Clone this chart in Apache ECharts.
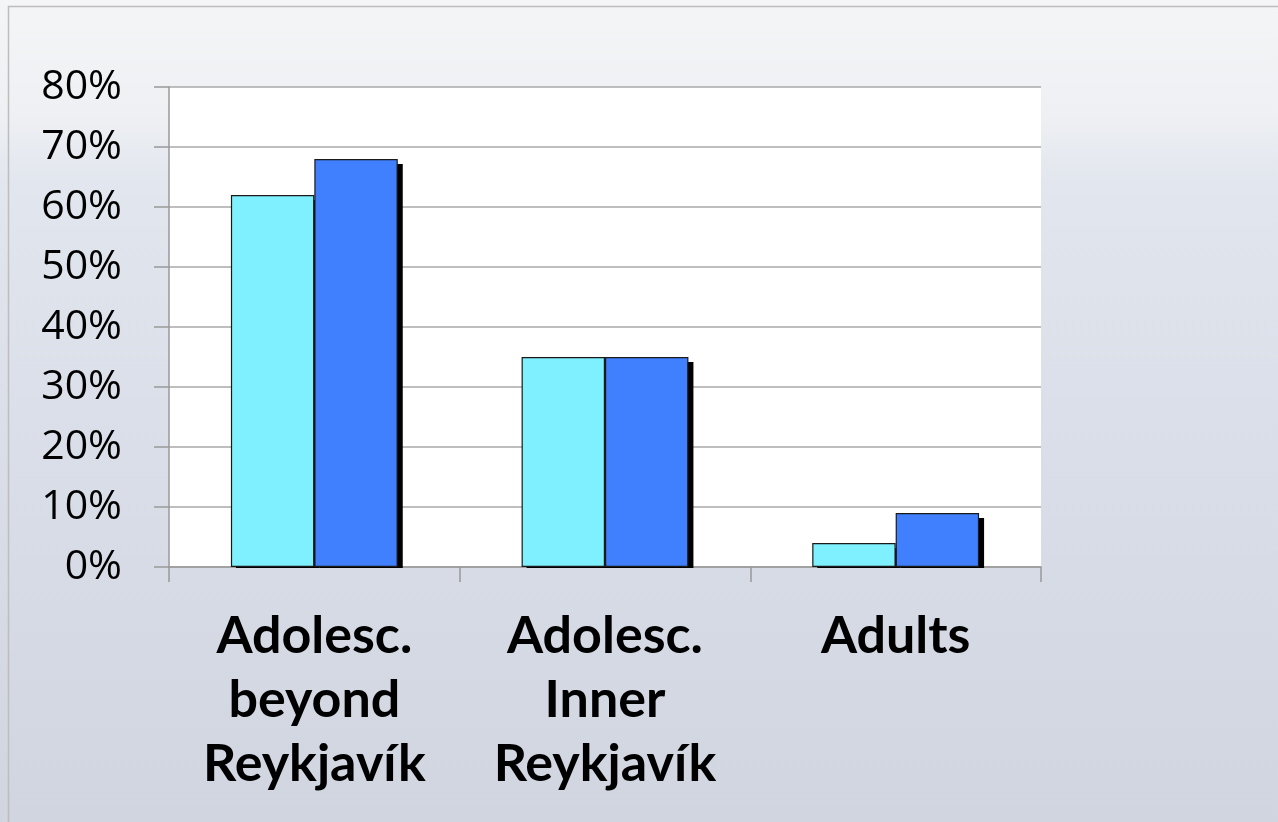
<!DOCTYPE html>
<html><head><meta charset="utf-8">
<script src="https://cdn.jsdelivr.net/npm/echarts@6/dist/echarts.min.js"></script>
<style>html,body{margin:0;padding:0;}#c{width:1278px;height:822px;}</style>
</head><body><div id="c"></div>
<script>
const categories = ['Adolesc.\nbeyond\nReykjavík', 'Adolesc.\nInner\nReykjavík', 'Adults'];
const seriesA = [62, 35, 4];   // cyan
const seriesB = [68, 35, 9];   // blue
const yTicks = [0, 10, 20, 30, 40, 50, 60, 70, 80];

const BAR_FRAC = 0.287;
const shadowData = [];
categories.forEach((c, i) => {
  shadowData.push([i, seriesA[i], -1]);
  shadowData.push([i, seriesB[i], 0]);
});

const chart = echarts.init(document.getElementById('c'));
chart.setOption({
  backgroundColor: {
    type: 'linear', x: 0, y: 0, x2: 0, y2: 1,
    colorStops: [
      {offset: 0, color: '#f4f5f7'},
      {offset: 0.14, color: '#eef0f3'},
      {offset: 0.22, color: '#e2e6ee'},
      {offset: 0.5, color: '#dadfe9'},
      {offset: 1, color: '#d0d5e0'}
    ]
  },
  graphic: [{
    type: 'rect', silent: true, z: -1,
    shape: {x: 8.5, y: 6.5, width: 1400, height: 900},
    style: {fill: 'none', stroke: '#bdbdbd', lineWidth: 1.5}
  }],
  animation: false,
  grid: {left: 169, top: 87, right: 237, bottom: 255, backgroundColor: '#ffffff', show: true, borderWidth: 0},
  xAxis: {
    type: 'category', data: categories,
    axisLine: {lineStyle: {color: '#999', width: 1.5}},
    axisTick: {show: true, length: 15, lineStyle: {color: '#999', width: 1.5}},
    axisLabel: {
      interval: 0, margin: 37, color: '#000',
      fontFamily: 'Lato', fontWeight: 'bold', fontSize: 52, lineHeight: 64
    }
  },
  yAxis: {
    type: 'value', min: 0, max: 80, interval: 10,
    axisLine: {show: true, lineStyle: {color: '#999', width: 1.5}},
    axisTick: {show: true, length: 15, lineStyle: {color: '#999', width: 1.5}},
    splitLine: {lineStyle: {color: '#a8a8a8', width: 1.5}},
    axisLabel: {
      margin: 47, color: '#000', fontFamily: 'Open Sans', fontSize: 41,
      formatter: v => yTicks.includes(v) ? v + '%' : ''
    }
  },
  series: [
    {
      type: 'custom', z: 1, silent: true,
      data: shadowData,
      encode: {x: 0, y: 1},
      renderItem: (params, api) => {
        const idx = api.value(0), val = api.value(1), side = api.value(2);
        const top = api.coord([idx, val]);
        const base = api.coord([idx, 0]);
        const w = api.size([1, 0])[0] * BAR_FRAC;
        const x0 = top[0] + side * w;
        return {
          type: 'rect',
          shape: {x: x0 + 5, y: top[1] + 5, width: w, height: Math.max(0, base[1] - top[1] - 4)},
          style: {fill: '#000'}
        };
      }
    },
    {
      type: 'bar', z: 2, data: seriesA, barWidth: (BAR_FRAC * 100) + '%', barGap: '0%',
      itemStyle: {color: '#7ff0ff', borderColor: '#1a1a1a', borderWidth: 1.2}
    },
    {
      type: 'bar', z: 2, data: seriesB, barWidth: (BAR_FRAC * 100) + '%', barGap: '0%',
      itemStyle: {color: '#4080ff', borderColor: '#1a1a1a', borderWidth: 1.2}
    }
  ]
});
</script></body></html>
